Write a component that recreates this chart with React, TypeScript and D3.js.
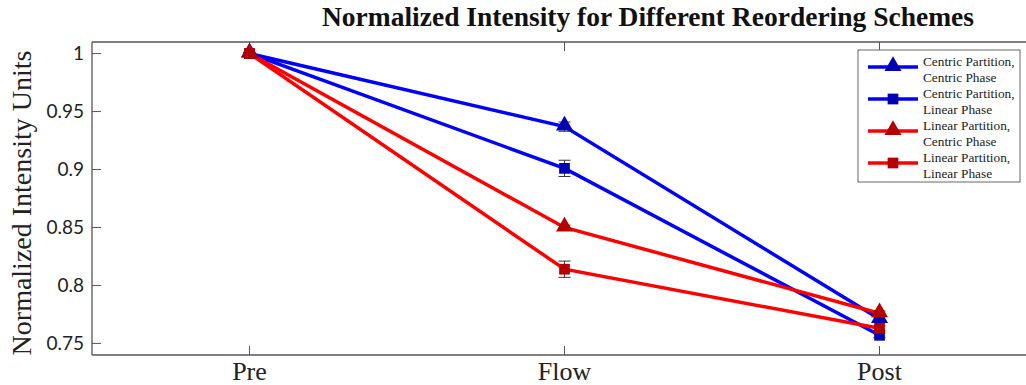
import { useEffect, useRef } from 'react';
import * as d3 from 'd3';

const categories = ['Pre', 'Flow', 'Post'];
const seriesNames = [
  ['Centric Partition,', 'Centric Phase'],
  ['Centric Partition,', 'Linear Phase'],
  ['Linear Partition,', 'Centric Phase'],
  ['Linear Partition,', 'Linear Phase'],
];
const centricCentric = [1.0, 0.937, 0.771];
const centricLinear = [1.0, 0.901, 0.757];
const linearCentric = [1.0, 0.85, 0.776];
const linearLinear = [1.0, 0.814, 0.763];
const centricCentricErr = [0.001, 0.004, 0.002];
const centricLinearErr = [0.001, 0.007, 0.002];
const linearCentricErr = [0.001, 0.002, 0.002];
const linearLinearErr = [0.001, 0.007, 0.002];
const yTicks = [0.75, 0.8, 0.85, 0.9, 0.95, 1];

const series = [
  { values: centricCentric, err: centricCentricErr, line: '#0000ff', fill: '#0000b4', shape: 'triangle' },
  { values: centricLinear, err: centricLinearErr, line: '#0000ff', fill: '#0000b4', shape: 'square' },
  { values: linearCentric, err: linearCentricErr, line: '#ff0000', fill: '#b40000', shape: 'triangle' },
  { values: linearLinear, err: linearLinearErr, line: '#ff0000', fill: '#b40000', shape: 'square' },
];

const W = 1026;
const H = 385;
const serif = '"Liberation Serif", "Times New Roman", serif';

export default function App() {
  const svgRef = useRef<SVGSVGElement>(null);

  useEffect(() => {
    if (!svgRef.current) return;
    const svg = d3.select(svgRef.current);
    svg.selectAll('*').remove();

    const margin = { top: 42, left: 92, bottom: 355 };
    const x = d3.scaleLinear().domain([0.5, 3.5]).range([margin.left, margin.left + 945]);
    const y = d3.scaleLinear().domain([0.74, 1.01]).range([margin.bottom, margin.top]);
    const axisColor = '#555';

    // axis box (right side runs off the picture)
    svg.append('line').attr('x1', margin.left).attr('x2', W).attr('y1', margin.top).attr('y2', margin.top)
      .attr('stroke', axisColor).attr('stroke-width', 1.3);
    svg.append('line').attr('x1', margin.left).attr('x2', W).attr('y1', margin.bottom).attr('y2', margin.bottom)
      .attr('stroke', axisColor).attr('stroke-width', 1.3);
    svg.append('line').attr('x1', margin.left).attr('x2', margin.left).attr('y1', margin.top).attr('y2', margin.bottom)
      .attr('stroke', axisColor).attr('stroke-width', 1.3);

    // y ticks
    const yg = svg.append('g');
    yTicks.forEach((t) => {
      yg.append('line').attr('x1', margin.left).attr('x2', margin.left + 9)
        .attr('y1', y(t)).attr('y2', y(t)).attr('stroke', axisColor).attr('stroke-width', 1);
      yg.append('text').attr('x', margin.left - 8).attr('y', y(t)).attr('dy', '0.35em')
        .attr('text-anchor', 'end').attr('font-family', 'Lato, sans-serif').attr('font-size', 19)
        .attr('fill', '#222').text(String(t));
    });

    // x ticks
    categories.forEach((c, i) => {
      const xi = x(i + 1);
      svg.append('line').attr('x1', xi).attr('x2', xi).attr('y1', margin.bottom).attr('y2', margin.bottom - 9)
        .attr('stroke', axisColor);
      svg.append('line').attr('x1', xi).attr('x2', xi).attr('y1', margin.top).attr('y2', margin.top + 9)
        .attr('stroke', axisColor);
      svg.append('text').attr('x', xi).attr('y', 380).attr('text-anchor', 'middle')
        .attr('font-family', serif).attr('font-size', 26)
        .attr('fill', '#222').text(c);
    });

    // y label
    svg.append('text').attr('transform', `translate(31,203) rotate(-90)`)
      .attr('text-anchor', 'middle').attr('font-family', serif)
      .attr('font-size', 28).attr('fill', '#222').text('Normalized Intensity Units');

    // title
    svg.append('text').attr('x', 648).attr('y', 26).attr('text-anchor', 'middle')
      .attr('font-family', serif).attr('font-weight', 'bold')
      .attr('font-size', 27.5).attr('fill', '#111').text('Normalized Intensity for Different Reordering Schemes');

    const tri = d3.symbol().type(d3.symbolTriangle).size(125);
    const sq = d3.symbol().type(d3.symbolSquare).size(115);

    const line = d3.line<number>().x((_, i) => x(i + 1)).y((d) => y(d));

    series.forEach((s) => {
      svg.append('path').datum(s.values).attr('d', line).attr('fill', 'none')
        .attr('stroke', s.line).attr('stroke-width', 3.5);
    });

    series.forEach((s) => {
      s.values.forEach((v, i) => {
        const xi = x(i + 1);
        const e = s.err[i];
        const eg = svg.append('g').attr('stroke', '#333').attr('stroke-width', 1);
        eg.append('line').attr('x1', xi).attr('x2', xi).attr('y1', y(v - e)).attr('y2', y(v + e));
        eg.append('line').attr('x1', xi - 6).attr('x2', xi + 6).attr('y1', y(v - e)).attr('y2', y(v - e));
        eg.append('line').attr('x1', xi - 6).attr('x2', xi + 6).attr('y1', y(v + e)).attr('y2', y(v + e));
        svg.append('path').attr('d', s.shape === 'triangle' ? tri() : sq())
          .attr('transform', `translate(${xi},${y(v) + (s.shape === 'triangle' ? -1 : 0)})`)
          .attr('fill', s.fill);
      });
    });

    // legend
    const lg = svg.append('g').attr('transform', 'translate(858,50)');
    lg.append('rect').attr('width', 162).attr('height', 132).attr('fill', '#fff')
      .attr('stroke', '#666').attr('stroke-width', 1);
    series.forEach((s, i) => {
      const cy = 17 + i * 32;
      lg.append('line').attr('x1', 10).attr('x2', 60).attr('y1', cy).attr('y2', cy)
        .attr('stroke', s.line).attr('stroke-width', 3.5);
      lg.append('path').attr('d', s.shape === 'triangle' ? tri() : sq())
        .attr('transform', `translate(35,${cy + (s.shape === 'triangle' ? -1 : 0)})`).attr('fill', s.fill);
      seriesNames[i].forEach((t, j) => {
        lg.append('text').attr('x', 65).attr('y', cy - 1 + j * 16)
          .attr('font-family', serif).attr('font-size', 13.3)
          .attr('fill', '#222').text(t);
      });
    });
  }, []);

  return (
    <svg ref={svgRef} width={W} height={H}
      style={{ position: 'absolute', left: 0, top: 0, background: '#fff' }} />
  );
}
